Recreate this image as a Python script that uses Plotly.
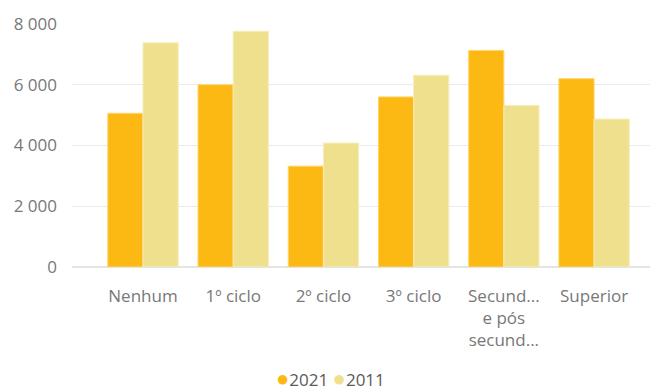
import plotly.graph_objects as go

categories = ["Nenhum", "1º ciclo", "2º ciclo", "3º ciclo", "Secund...<br>e pós<br>secund...", "Superior"]
values_2021 = [5060, 6000, 3320, 5600, 7130, 6200]
values_2011 = [7380, 7760, 4080, 6310, 5320, 4870]
series_names = ["2021", "2011"]
tick_vals = [0, 2000, 4000, 6000, 8000]
tick_text = ["0", "2 000", "4 000", "6 000", "8 000"]

c2021 = "#FDB913"
c2011 = "#EFE08D"
font_fam = "Open Sans, Noto Sans, sans-serif"
text_col = "#787878"

fig = go.Figure()
x_idx = list(range(len(categories)))
fig.add_trace(go.Bar(x=x_idx, y=values_2021, name=series_names[0], marker=dict(color=c2021, line=dict(color="#FFD46A", width=1)), showlegend=False))
fig.add_trace(go.Bar(x=x_idx, y=values_2011, name=series_names[1], marker=dict(color=c2011, line=dict(color="#F6EDB8", width=1)), showlegend=False))

legend_text = " ".join(
    f"<span style='color:{col};font-size:22px'>●</span><span style='color:#5A5A5A'>{nm}</span>"
    for nm, col in zip(series_names, [c2021, c2011])
)
fig.add_annotation(text=legend_text, xref="paper", yref="paper", x=0.448, y=-0.452,
                   xanchor="center", yanchor="middle", showarrow=False,
                   font=dict(family=font_fam, size=17))

fig.update_layout(
    width=655, height=391,
    margin=dict(l=72, r=5, t=24, b=124),
    paper_bgcolor="white", plot_bgcolor="white",
    barmode="group", bargap=0.22, bargroupgap=0,
    showlegend=False,
    font=dict(family=font_fam, size=17, color=text_col),
    xaxis=dict(tickmode="array", tickvals=x_idx, ticktext=categories, range=[-0.787, 5.62],
               showgrid=False, zeroline=False, showline=False, ticks="", ticklabelstandoff=17,
               tickfont=dict(size=17, color=text_col)),
    yaxis=dict(tickmode="array", tickvals=tick_vals, ticktext=tick_text, range=[0, 8000],
               showgrid=True, gridcolor="#EBEBEB", gridwidth=1, zeroline=True, zerolinecolor="#E4E4E4",
               showline=False, ticks="", ticklabelstandoff=14, tickfont=dict(size=17, color=text_col)),
)
fig.write_html("out.html")
